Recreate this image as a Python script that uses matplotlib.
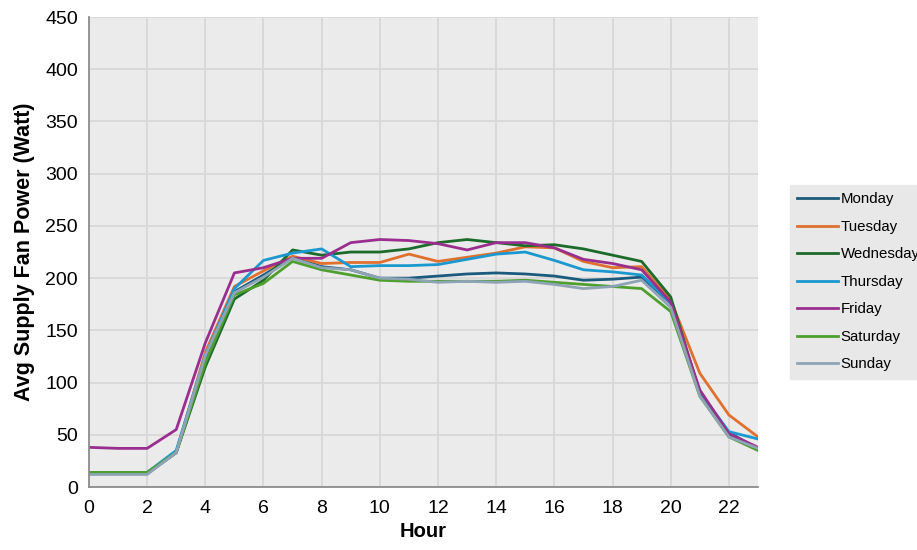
import numpy as np
import matplotlib.pyplot as plt

plt.rcParams['font.family'] = ['Liberation Sans', 'DejaVu Sans']

hours = list(range(24))
monday = [13, 13, 13, 33, 121, 187, 203, 220, 211, 208, 200, 200, 202, 204, 205, 204, 202, 198, 199, 201, 176, 91, 52, 37]
tuesday = [13, 13, 13, 33, 129, 192, 207, 221, 214, 215, 215, 223, 216, 220, 224, 230, 229, 216, 210, 211, 179, 109, 69, 48]
wednesday = [13, 13, 13, 33, 115, 180, 198, 227, 222, 225, 225, 228, 234, 237, 234, 231, 232, 228, 222, 216, 182, 90, 50, 37]
thursday = [14, 14, 14, 35, 126, 190, 217, 224, 228, 211, 212, 212, 213, 218, 223, 225, 217, 208, 206, 203, 176, 91, 53, 46]
friday = [38, 37, 37, 55, 138, 205, 210, 219, 219, 234, 237, 236, 233, 227, 234, 234, 229, 218, 214, 208, 177, 93, 51, 38]
saturday = [14, 14, 14, 33, 119, 184, 195, 216, 208, 203, 198, 197, 197, 197, 197, 198, 196, 194, 192, 190, 168, 87, 48, 35]
sunday = [12, 12, 12, 33, 126, 186, 201, 219, 210, 208, 200, 199, 196, 197, 196, 197, 194, 190, 192, 198, 172, 87, 48, 37]

days = ["Monday", "Tuesday", "Wednesday", "Thursday", "Friday", "Saturday", "Sunday"]
series = [monday, tuesday, wednesday, thursday, friday, saturday, sunday]
colors = ["#1b5a7c", "#e0702e", "#1c6b2a", "#1b98cf", "#9a2e8f", "#4e9f2e", "#8ea4b6"]

fig = plt.figure(figsize=(9.17, 5.5), dpi=100)
ax = fig.add_axes([0.097, 0.1145, 0.7296, 0.8545])
ax.set_facecolor("#ebebeb")

for name, vals, c in zip(days, series, colors):
    ax.plot(hours, vals, color=c, lw=2.0, label=name)

ax.set_xlim(0, 23)
ax.set_ylim(0, 450)
ax.set_xticks(range(0, 23, 2))
ax.set_yticks(range(0, 451, 50))
ax.grid(True, color="#d8d8d8", lw=1.3)
ax.set_axisbelow(True)
for s in ["top", "right"]:
    ax.spines[s].set_visible(False)
for s in ["left", "bottom"]:
    ax.spines[s].set_color("#8c8c8c")
    ax.spines[s].set_linewidth(1.3)
ax.tick_params(length=0, labelsize=14)
ax.tick_params(axis="y", pad=8)
ax.tick_params(axis="x", pad=9)

ax.set_xlabel("Hour", fontsize=14.5, fontweight="bold", labelpad=4)
ax.set_ylabel("Avg Supply Fan Power (Watt)", fontsize=15.5, fontweight="bold", labelpad=7)

leg = fig.legend(loc="upper left", bbox_to_anchor=(0.861, 0.664), fontsize=10.8,
                 frameon=True, fancybox=False, handlelength=2.7, handletextpad=0.2,
                 labelspacing=0.9, borderpad=0.5, borderaxespad=0)
leg.get_frame().set_facecolor("#e8e8e8")
leg.get_frame().set_edgecolor("#e8e8e8")
leg.get_frame().set_alpha(1)

fig.savefig("out.png", dpi=100)
